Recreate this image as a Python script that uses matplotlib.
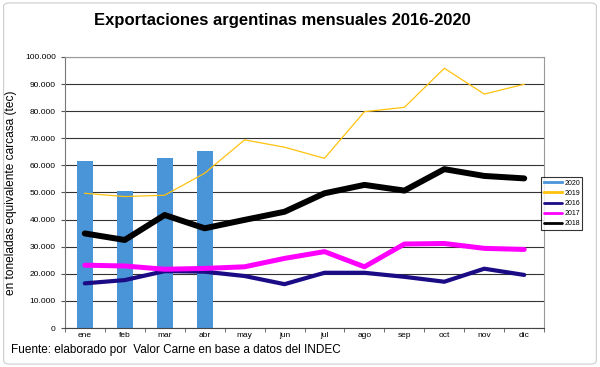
import numpy as np
import matplotlib.pyplot as plt
from matplotlib.patches import FancyBboxPatch
from matplotlib.ticker import FuncFormatter

plt.rcParams['font.family'] = ['Liberation Sans', 'DejaVu Sans']

meses = ['ene', 'feb', 'mar', 'abr', 'may', 'jun', 'jul', 'ago', 'sep', 'oct', 'nov', 'dic']
v2020 = [61700, 50700, 62600, 65400]
v2019 = [49700, 48500, 49000, 57100, 69400, 66700, 62600, 79800, 81400, 95800, 86300, 89900]
v2016 = [16500, 17700, 21000, 20800, 19200, 16200, 20400, 20400, 18900, 17100, 21900, 19600]
v2017 = [23200, 22900, 21700, 22000, 22600, 25700, 28200, 22600, 31000, 31200, 29400, 29000]
v2018 = [34900, 32500, 41700, 36800, 39900, 42900, 49700, 52800, 50700, 58600, 56100, 55200]

fig = plt.figure(figsize=(6, 3.67), dpi=100)
ax = fig.add_axes([0.108, 0.106, 0.799, 0.739])

x = np.arange(12)
ax.bar(x[:len(v2020)], v2020, width=0.4, color='#4a94d8', zorder=2)
ax.plot([], [], color='#4a94d8', lw=2.2, label='2020')
ax.plot(x, v2019, color='#ffc20e', lw=0.9, zorder=3, label='2019')
ax.plot(x, v2016, color='#1b0c86', lw=3.0, zorder=3, label='2016', solid_capstyle='round')
ax.plot(x, v2017, color='#ff00ff', lw=3.6, zorder=3, label='2017', solid_capstyle='round')
ax.plot(x, v2018, color='black', lw=4.3, zorder=4, label='2018', solid_capstyle='round')

ax.set_xlim(-0.5, 11.5)
ax.set_ylim(0, 100000)
ax.set_yticks(np.arange(0, 100001, 10000))
ax.yaxis.set_major_formatter(FuncFormatter(lambda v, p: f'{int(v):,}'.replace(',', '.')))
ax.set_xticks(x)
ax.set_xticklabels(meses)
ax.set_xticks(np.arange(-0.5, 12, 1), minor=True)
ax.tick_params(axis='x', which='major', length=0, labelsize=6, pad=3)
ax.tick_params(axis='x', which='minor', length=3, color='#555555')
ax.tick_params(axis='y', labelsize=6, length=3, color='#555555')
ax.grid(axis='y', color='#333333', lw=0.8, zorder=0)
for s in ['top', 'right']:
    ax.spines[s].set_color('#999999')
ax.spines['left'].set_color('#777777')
ax.spines['bottom'].set_color('#444444')

ax.set_ylabel('en toneladas equivalente carcasa (tec)', fontsize=8.6, labelpad=6)

leg = ax.legend(loc='upper left', bbox_to_anchor=(0.994, 0.556), fontsize=5,
                frameon=True, fancybox=False, edgecolor='black', handlelength=2.6,
                borderpad=0.35, labelspacing=0.45, handletextpad=0.35, borderaxespad=0)
leg.get_frame().set_linewidth(0.8)
for line in leg.get_lines():
    line.set_linewidth(2.0)

fig.text(0.47, 0.945, 'Exportaciones argentinas mensuales 2016-2020', ha='center', va='center',
         fontsize=12, fontweight='bold')
fig.text(0.018, 0.047, 'Fuente: elaborado por  Valor Carne en base a datos del INDEC',
         ha='left', va='center', fontsize=8.5)

border = FancyBboxPatch((0.006, 0.008), 0.988, 0.984, boxstyle='round,pad=0,rounding_size=0.01',
                        transform=fig.transFigure, fill=False, edgecolor='#cccccc', lw=0.8)
fig.patches.append(border)

fig.savefig('out.png', dpi=100)
